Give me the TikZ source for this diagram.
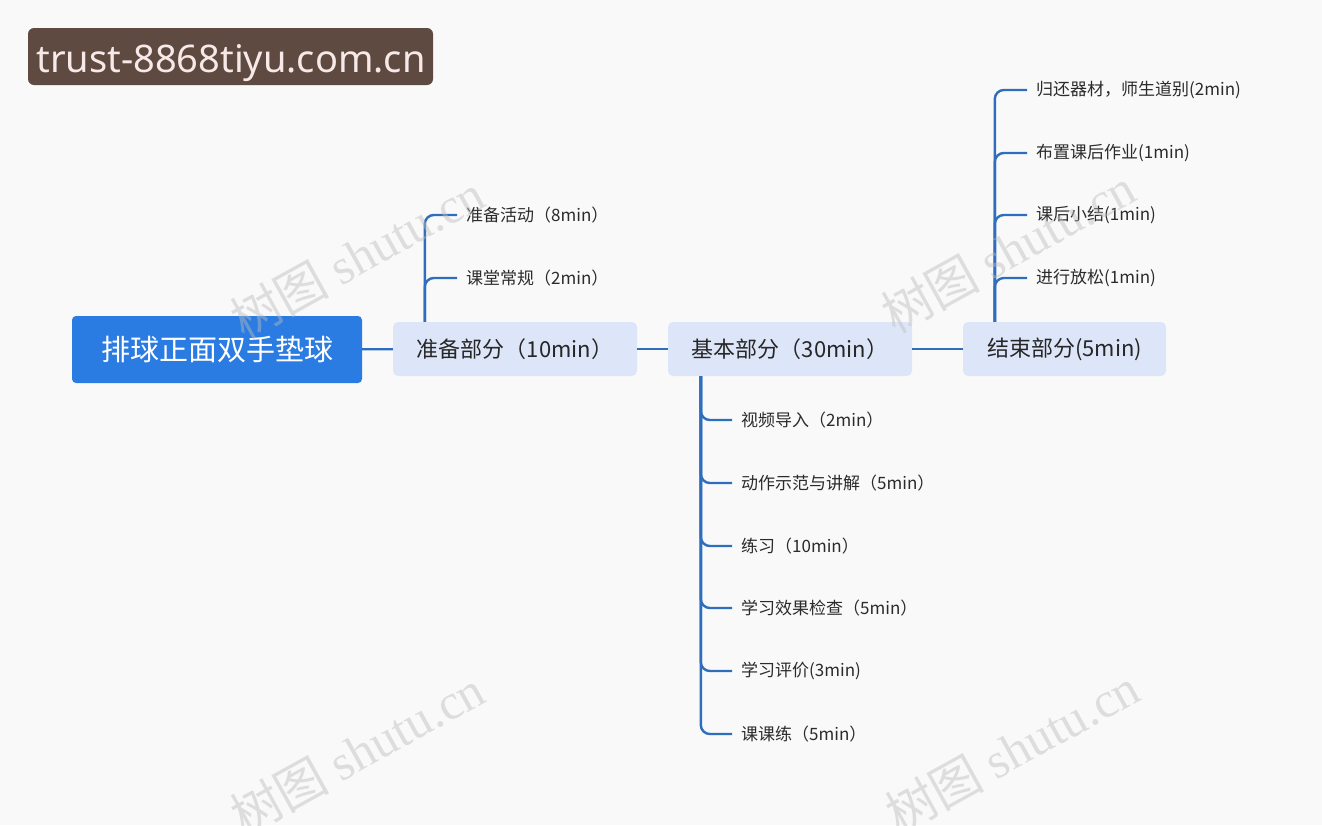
\documentclass[tikz,border=0pt]{standalone}
\usepackage{fontspec}
\setmainfont{Noto Sans CJK SC}
\newfontfamily\badgefont{Noto Sans}
\newfontfamily\markfont{Liberation Serif}
\usepackage{xcolor}
\usetikzlibrary{positioning,calc}

\definecolor{pagebg}{HTML}{F9F9F9}
\definecolor{badgebg}{HTML}{5E4A41}
\definecolor{badgetx}{HTML}{F6E9E8}
\definecolor{rootbg}{HTML}{2A7BE2}
\definecolor{partbg}{HTML}{DDE6F8}
\definecolor{linkblue}{HTML}{2F6DBD}
\definecolor{leaftx}{HTML}{2B2B2B}
\definecolor{marktx}{HTML}{BDBDBD}

\begin{document}
\begin{tikzpicture}[
  x=1pt,
  y=-1pt,
  rootbox/.style={fill=rootbg, rounded corners=4pt, minimum width=290pt, minimum height=67pt,
    text=white, font=\fontsize{29}{34}\selectfont},
  partbox/.style={fill=partbg, rounded corners=5pt, minimum height=54pt,
    text=black!85, font=\fontsize{22}{26}\selectfont},
  leaf/.style={anchor=west, inner xsep=9pt, text=leaftx, font=\fontsize{17}{20}\selectfont},
  link/.style={draw=linkblue, line width=2.4pt},
  branch/.style={draw=linkblue, line width=2.4pt, rounded corners=9pt},
  watermark/.style={text=marktx, opacity=0.45, rotate=29, font=\fontsize{50}{54}\selectfont}
]

% Page: 1322 x 825, y runs downwards as in the screenshot.
\fill[pagebg] (0,0) rectangle (1322,825);
\useasboundingbox (0,0) rectangle (1322,825);

% Site badge in the upper-left corner.
\node[fill=badgebg, rounded corners=6pt, minimum width=405pt, minimum height=57pt] (badge) at (230.5,56.5) {};
\node[text=badgetx, font=\badgefont\fontsize{38}{42}\selectfont] (badgetxt) at (231,63) {trust-8868tiyu.com.cn};

% Root and the three parts.
\node[rootbox] (root) at (217,349.5) {排球正面双手垫球};
\node[partbox, minimum width=244pt] (p1) at (515,349) {准备部分（10min）};
\node[partbox, minimum width=244pt] (p2) at (790,349) {基本部分（30min）};
\node[partbox, minimum width=203pt] (p3) at (1064.5,349) {结束部分(5min)};

\draw[link] (root) -- (p1);
\draw[link] (p1) -- (p2);
\draw[link] (p2) -- (p3);

% Trunks leave the part boxes at fixed offsets.
\coordinate (p1t) at ([xshift=32]p1.north west);
\coordinate (p2t) at ([xshift=33]p2.south west);
\coordinate (p3t) at ([xshift=32]p3.north west);

% Preparation part: two items above.
\foreach \i/\yy/\txt in {1/215/准备活动（8min）,2/278/课堂常规（2min）} {
  \node[leaf] (a\i) at (457,\yy) {\txt};
  \draw[branch] (p1t) |- (a\i.west);
}

% Basic part: six items below.
\foreach \i/\yy/\txt in {1/420/视频导入（2min）,2/483/动作示范与讲解（5min）,3/546/练习（10min）,
    4/608/学习效果检查（5min）,5/671/学习评价(3min),6/734/课课练（5min）} {
  \node[leaf] (b\i) at (732,\yy) {\txt};
  \draw[branch] (p2t) |- (b\i.west);
}

% Closing part: four items above.
\foreach \i/\yy/\txt in {1/90/归还器材，师生道别(2min),2/153/布置课后作业(1min),
    3/215/课后小结(1min),4/278/进行放松(1min)} {
  \node[leaf] (c\i) at (1027,\yy) {\txt};
  \draw[branch] (p3t) |- (c\i.west);
}

% Faint watermarks.
\foreach \xx/\yy in {357/256,1008/250,357/752,1012/750} {
  \node[watermark] at (\xx,\yy) {树图 {\markfont shutu.cn}};
}
\end{tikzpicture}
\end{document}
